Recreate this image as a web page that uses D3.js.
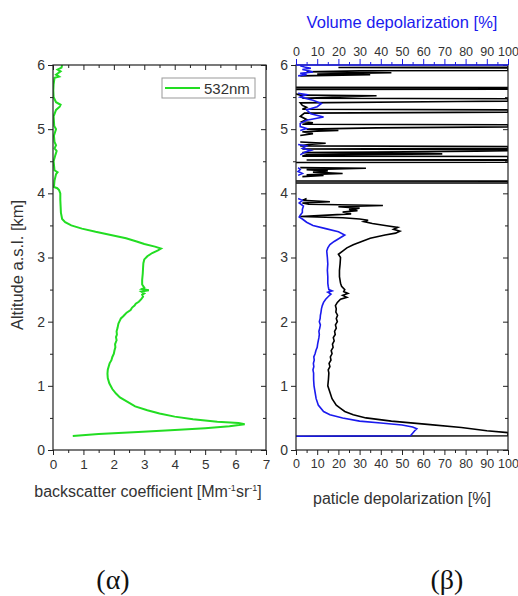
<!DOCTYPE html>
<html>
<head>
<meta charset="utf-8">
<script src="https://cdn.jsdelivr.net/npm/d3@7"></script>
<style>
  body { margin: 0; background: #fff; }
  svg { display: block; }
  text { font-family: "Liberation Sans", Arial, sans-serif; }
</style>
</head>
<body>
<div id="chart"></div>
<script>
// altitude [km], backscatter coefficient 532nm [Mm^-1 sr^-1]
const backscatter532 = [
  [0.22, 0.65], [0.25, 1.5], [0.28, 2.8], [0.31, 4.0], [0.34, 5.0], [0.37, 5.8], [0.4, 6.3],
  [0.42, 6.1], [0.44, 5.4], [0.48, 4.6], [0.52, 4.0], [0.57, 3.5], [0.62, 3.1], [0.68, 2.7],
  [0.75, 2.45], [0.82, 2.2], [0.88, 2.07], [0.95, 1.95], [1.04, 1.85], [1.12, 1.8], [1.19, 1.79],
  [1.25, 1.8], [1.3, 1.83], [1.35, 1.86], [1.4, 1.92], [1.45, 1.95], [1.5, 2.0], [1.55, 2.02],
  [1.6, 2.05], [1.65, 2.04], [1.71, 2.09], [1.76, 2.07], [1.8, 2.1], [1.85, 2.09], [1.9, 2.12],
  [1.97, 2.15], [2.02, 2.2], [2.05, 2.23], [2.08, 2.3], [2.1, 2.34], [2.14, 2.42], [2.18, 2.55],
  [2.22, 2.6], [2.25, 2.68], [2.28, 2.72], [2.31, 2.82], [2.35, 2.9], [2.39, 2.96], [2.42, 2.93],
  [2.44, 3.0], [2.47, 2.9], [2.49, 3.15], [2.51, 2.92], [2.53, 3.0], [2.58, 2.93], [2.65, 2.93],
  [2.75, 2.95], [2.84, 2.96], [2.91, 2.97], [2.97, 3.0], [3.02, 3.1], [3.07, 3.26], [3.11, 3.45],
  [3.14, 3.55], [3.17, 3.35], [3.21, 3.0], [3.25, 2.75], [3.3, 2.4], [3.35, 1.9], [3.4, 1.4],
  [3.45, 0.95], [3.5, 0.6], [3.55, 0.4], [3.6, 0.3], [3.7, 0.26], [3.8, 0.25], [3.9, 0.24],
  [4.0, 0.24], [4.05, 0.2], [4.08, 0.14], [4.1, 0.03], [4.2, 0.05], [4.3, 0.1], [4.33, 0.15],
  [4.36, 0.05], [4.45, 0.03], [4.5, 0.02], [4.6, 0.08], [4.66, 0.12], [4.7, 0.05], [4.75, 0.1],
  [4.8, 0.05], [4.9, 0.03], [5.0, 0.1], [5.05, 0.04], [5.2, 0.02], [5.3, 0.1], [5.35, 0.22],
  [5.38, 0.25], [5.42, 0.1], [5.5, 0.02], [5.6, 0.01], [5.7, 0.02], [5.8, 0.05], [5.82, 0.2],
  [5.85, 0.1], [5.9, 0.25], [5.93, 0.15], [5.96, 0.28], [6.0, 0.3]
];

// altitude [km], particle depolarization [%]  (null = no data)
const particleDepol = [
  [0.215, 0], [0.222, 100], [0.27, 100], [0.3, 90], [0.35, 78], [0.4, 62], [0.45, 45],
  [0.5, 33], [0.55, 27], [0.6, 23], [0.65, 21], [0.7, 19], [0.8, 17], [0.9, 16], [1.0, 15],
  [1.1, 15.3], [1.2, 15.5], [1.25, 15.2], [1.3, 16], [1.35, 15.6], [1.4, 16.5], [1.45, 16.2],
  [1.5, 17], [1.55, 16.6], [1.6, 17.5], [1.65, 17.2], [1.7, 18], [1.75, 17.6], [1.8, 18.5],
  [1.85, 18.2], [1.9, 19], [1.95, 18.6], [2.0, 19.5], [2.05, 19], [2.1, 19.6], [2.15, 18.8],
  [2.2, 19], [2.25, 18.6], [2.3, 19.5], [2.35, 21], [2.38, 24], [2.41, 22], [2.44, 24.5],
  [2.47, 22.5], [2.5, 23], [2.55, 21.5], [2.6, 21], [2.7, 20.5], [2.8, 20.5], [2.9, 20.8],
  [3.0, 21], [3.05, 20], [3.1, 22], [3.15, 24], [3.2, 27], [3.25, 31], [3.3, 35], [3.35, 42],
  [3.38, 47], [3.41, 49], [3.44, 46], [3.47, 48], [3.5, 42], [3.53, 36], [3.56, 32], [3.58, 34],
  [3.6, 30], [3.62, 22], [3.64, 2], [3.66, 15], [3.68, 26], [3.71, 22], [3.73, 29], [3.75, 25],
  [3.77, 30], [3.79, 20], [3.81, 41], [3.83, 6], [3.85, 3], [3.87, 16], [3.89, 3], [3.92, 5],
  [3.93, null],
  [4.16, 0], [4.163, 100], [4.19, 100], [4.193, 0], [4.2, null],
  [4.26, 3], [4.28, 13], [4.29, 5], [4.31, 22], [4.33, 8], [4.35, 15], [4.37, 5], [4.39, 33],
  [4.4, 2], [4.41, null],
  [4.48, 0], [4.485, 100], [4.515, 100], [4.52, 5], [4.525, 100], [4.575, 100], [4.58, 3],
  [4.6, 5], [4.615, 69], [4.625, 55], [4.635, 3], [4.655, 85], [4.665, 100], [4.68, 100],
  [4.69, 3], [4.703, 100], [4.73, 100], [4.74, 2], [4.76, 6], [4.78, 14], [4.8, 2], [4.81, null],
  [4.9, 2], [4.93, 8], [4.96, 3], [4.98, 20], [5.0, 5], [5.02, 38], [5.035, 100], [5.07, 100],
  [5.077, 3], [5.1, 8], [5.12, 3], [5.15, 5], [5.2, 2], [5.25, 4], [5.265, 100], [5.3, 100],
  [5.31, 3], [5.34, 5], [5.37, 3], [5.41, 2], [5.43, 76], [5.437, 100], [5.475, 100], [5.482, 3],
  [5.52, 38], [5.53, 2], [5.55, 0], [5.56, null],
  [5.62, 0], [5.623, 100], [5.648, 100], [5.651, 0], [5.66, null],
  [5.83, 2], [5.85, 35], [5.86, 10], [5.88, 45], [5.895, 5], [5.91, 30], [5.915, 100],
  [5.955, 100], [5.962, 20], [5.97, 100], [6.0, 100]
];

// altitude [km], volume depolarization [%]  (null = no data)
const volumeDepol = [
  [0.215, 0], [0.222, 54], [0.26, 55], [0.3, 56], [0.33, 57], [0.36, 55], [0.39, 50],
  [0.42, 40], [0.45, 30], [0.5, 22], [0.55, 16], [0.6, 13], [0.7, 10.5], [0.8, 9.5], [0.9, 9],
  [1.0, 8.5], [1.1, 8.3], [1.2, 8.3], [1.25, 8.0], [1.3, 8.4], [1.35, 8.2], [1.4, 8.6],
  [1.45, 8.4], [1.5, 9], [1.55, 9.4], [1.6, 10], [1.65, 10.2], [1.7, 10.5], [1.75, 10.8],
  [1.8, 11], [1.85, 10.8], [1.9, 11.2], [1.95, 11.5], [2.0, 11], [2.05, 11.4], [2.1, 11.5],
  [2.15, 11.8], [2.2, 12], [2.25, 12.4], [2.3, 13], [2.35, 14], [2.4, 15.5], [2.43, 16.5],
  [2.46, 15], [2.48, 17], [2.5, 15.5], [2.55, 15.2], [2.6, 15], [2.7, 15], [2.8, 14.8],
  [2.9, 15], [3.0, 14.8], [3.1, 14.5], [3.15, 15], [3.2, 16], [3.25, 18], [3.3, 20.5],
  [3.35, 23], [3.4, 20], [3.45, 14], [3.5, 8], [3.55, 5], [3.6, 3], [3.63, 1.5], [3.66, 2],
  [3.7, 3], [3.75, 3], [3.8, 3.5], [3.85, 1.5], [3.89, 3], [3.92, 1], [3.93, null],
  [4.28, 1], [4.31, 3], [4.34, 1], [4.37, 2], [4.4, 1], [4.41, null],
  [4.6, 2], [4.64, 4], [4.67, 7], [4.7, 3], [4.74, 5], [4.76, 1], [4.77, null],
  [4.98, 2], [5.01, 5], [5.04, 2], [5.09, 2], [5.14, 5], [5.19, 13], [5.24, 7], [5.3, 5],
  [5.35, 10], [5.4, 12], [5.45, 8], [5.5, 2], [5.54, 5], [5.56, 1], [5.57, null],
  [5.83, 1], [5.85, 5], [5.87, 2], [5.89, 8], [5.91, 6], [5.93, 3], [5.95, 7], [5.97, 4], [5.99, 2]
];

const altTicks = [0, 1, 2, 3, 4, 5, 6];
const backscatterTicks = [0, 1, 2, 3, 4, 5, 6, 7];
const depolTicks = [0, 10, 20, 30, 40, 50, 60, 70, 80, 90, 100];

const width = 518, height = 596;
const axisColor = '#222';
const labelColor = '#333';
const green = '#22dd22';
const blue = '#1a1aee';

const svg = d3.select('#chart').append('svg')
  .attr('width', width)
  .attr('height', height)
  .attr('viewBox', [0, 0, width, height]);

const y = d3.scaleLinear().domain([0, 6]).range([450, 65]);
const xL = d3.scaleLinear().domain([0, 7]).range([53, 266]);
const xR = d3.scaleLinear().domain([0, 100]).range([296, 508]);

function styleAxis(g, size) {
  g.select('.domain').remove();
  g.selectAll('line').attr('stroke', axisColor).attr('stroke-width', 1);
  g.selectAll('text').attr('fill', labelColor).style('font-size', (size || 13) + 'px');
}

// draws the ticks of one panel on all four sides
function panelAxes(x, xTicks, xMinor, opts) {
  const [x0, x1] = x.range();
  const [y0, y1] = y.range();
  const altMinor = d3.range(0.5, 6, 1);

  // bottom, outward
  svg.append('g').attr('transform', `translate(0,${y0})`)
    .call(d3.axisBottom(x).tickValues(xTicks).tickSize(5).tickPadding(4).tickFormat(d3.format('d')))
    .call(styleAxis, opts.xSize);
  svg.append('g').attr('transform', `translate(0,${y0})`)
    .call(d3.axisBottom(x).tickValues(xMinor).tickSize(3).tickFormat(''))
    .call(styleAxis);

  // left, outward
  svg.append('g').attr('transform', `translate(${x0},0)`)
    .call(d3.axisLeft(y).tickValues(altTicks).tickSize(5).tickPadding(3).tickFormat(d3.format('d')))
    .call(styleAxis, 14);
  svg.append('g').attr('transform', `translate(${x0},0)`)
    .call(d3.axisLeft(y).tickValues(altMinor).tickSize(3).tickFormat(''))
    .call(styleAxis);

  // right, inward
  svg.append('g').attr('transform', `translate(${x1},0)`)
    .call(d3.axisLeft(y).tickValues(altTicks).tickSize(5).tickFormat(''))
    .call(styleAxis);
  svg.append('g').attr('transform', `translate(${x1},0)`)
    .call(d3.axisLeft(y).tickValues(altMinor).tickSize(3).tickFormat(''))
    .call(styleAxis);

  if (opts.topLabels) {
    // top axis with labels, outward, blue
    const gTop = svg.append('g').attr('transform', `translate(0,${y1})`)
      .call(d3.axisTop(x).tickValues(xTicks).tickSize(6).tickPadding(3).tickFormat(d3.format('d')))
      .call(styleAxis, opts.xSize);
    gTop.selectAll('line').attr('stroke', blue);
    const gTopMinor = svg.append('g').attr('transform', `translate(0,${y1})`)
      .call(d3.axisTop(x).tickValues(xMinor).tickSize(3).tickFormat(''))
      .call(styleAxis);
    gTopMinor.selectAll('line').attr('stroke', blue);
  } else {
    // top, inward
    svg.append('g').attr('transform', `translate(0,${y1})`)
      .call(d3.axisBottom(x).tickValues(xTicks).tickSize(5).tickFormat(''))
      .call(styleAxis);
    svg.append('g').attr('transform', `translate(0,${y1})`)
      .call(d3.axisBottom(x).tickValues(xMinor).tickSize(3).tickFormat(''))
      .call(styleAxis);
  }

  // frame
  svg.append('rect')
    .attr('x', x0).attr('y', y1)
    .attr('width', x1 - x0).attr('height', y0 - y1)
    .attr('fill', 'none')
    .attr('stroke', axisColor)
    .attr('stroke-width', 1.2);
  if (opts.topLabels) {
    svg.append('line')
      .attr('x1', x0).attr('x2', x1).attr('y1', y1).attr('y2', y1)
      .attr('stroke', blue).attr('stroke-width', 1.5);
  }
}

function clipFor(id, x) {
  const [x0, x1] = x.range();
  const [y0, y1] = y.range();
  svg.append('clipPath').attr('id', id)
    .append('rect')
    .attr('x', x0).attr('y', y1)
    .attr('width', x1 - x0).attr('height', y0 - y1);
}

clipFor('clipL', xL);
clipFor('clipR', xR);

// left panel: backscatter
const lineL = d3.line()
  .x(d => xL(d[1]))
  .y(d => y(d[0]));

svg.append('path')
  .datum(backscatter532)
  .attr('clip-path', 'url(#clipL)')
  .attr('d', lineL)
  .attr('fill', 'none')
  .attr('stroke', green)
  .attr('stroke-width', 2);

// right panel: depolarization
const lineR = d3.line()
  .defined(d => d[1] !== null)
  .x(d => xR(d[1]))
  .y(d => y(d[0]));

svg.append('path')
  .datum(particleDepol)
  .attr('clip-path', 'url(#clipR)')
  .attr('d', lineR)
  .attr('fill', 'none')
  .attr('stroke', '#000')
  .attr('stroke-width', 1.6);

svg.append('path')
  .datum(volumeDepol)
  .attr('clip-path', 'url(#clipR)')
  .attr('d', lineR)
  .attr('fill', 'none')
  .attr('stroke', blue)
  .attr('stroke-width', 1.6);

panelAxes(xL, backscatterTicks, d3.range(0.5, 7, 1), {topLabels: false, xSize: 13.5});
panelAxes(xR, depolTicks, d3.range(5, 100, 10), {topLabels: true, xSize: 12.5});

// legend
const legend = svg.append('g');
legend.append('rect')
  .attr('x', 162).attr('y', 78)
  .attr('width', 93).attr('height', 20)
  .attr('fill', '#fff')
  .attr('stroke', '#999')
  .attr('stroke-width', 1);
legend.append('line')
  .attr('x1', 165).attr('x2', 200)
  .attr('y1', 88).attr('y2', 88)
  .attr('stroke', green).attr('stroke-width', 2);
legend.append('text')
  .attr('x', 204).attr('y', 93.5)
  .attr('fill', labelColor)
  .style('font-size', '15px')
  .text('532nm');

// axis titles
svg.append('text')
  .attr('transform', 'translate(23,265) rotate(-90)')
  .attr('text-anchor', 'middle')
  .attr('fill', labelColor)
  .style('font-size', '16.5px')
  .text('Altitude a.s.l. [km]');

const bsTitle = svg.append('text')
  .attr('x', 148).attr('y', 497)
  .attr('text-anchor', 'middle')
  .attr('fill', labelColor)
  .style('font-size', '16px');
bsTitle.append('tspan').text('backscatter coefficient [Mm');
bsTitle.append('tspan').attr('dy', -6).style('font-size', '9px').text('-1');
bsTitle.append('tspan').attr('dy', 6).text('sr');
bsTitle.append('tspan').attr('dy', -6).style('font-size', '9px').text('-1');
bsTitle.append('tspan').attr('dy', 6).text(']');

svg.append('text')
  .attr('x', 402).attr('y', 504)
  .attr('text-anchor', 'middle')
  .attr('fill', labelColor)
  .style('font-size', '16px')
  .text('paticle depolarization [%]');

svg.append('text')
  .attr('x', 402).attr('y', 28)
  .attr('text-anchor', 'middle')
  .attr('fill', blue)
  .style('font-size', '16.5px')
  .text('Volume depolarization [%]');

// panel captions
svg.append('text')
  .attr('x', 113).attr('y', 589)
  .attr('text-anchor', 'middle')
  .attr('fill', '#111')
  .style('font-family', '"Liberation Serif", "Times New Roman", serif')
  .style('font-size', '28px')
  .text('(α)');

svg.append('text')
  .attr('x', 447).attr('y', 589)
  .attr('text-anchor', 'middle')
  .attr('fill', '#111')
  .style('font-family', '"Liberation Serif", "Times New Roman", serif')
  .style('font-size', '28px')
  .text('(β)');
</script>
</body>
</html>
